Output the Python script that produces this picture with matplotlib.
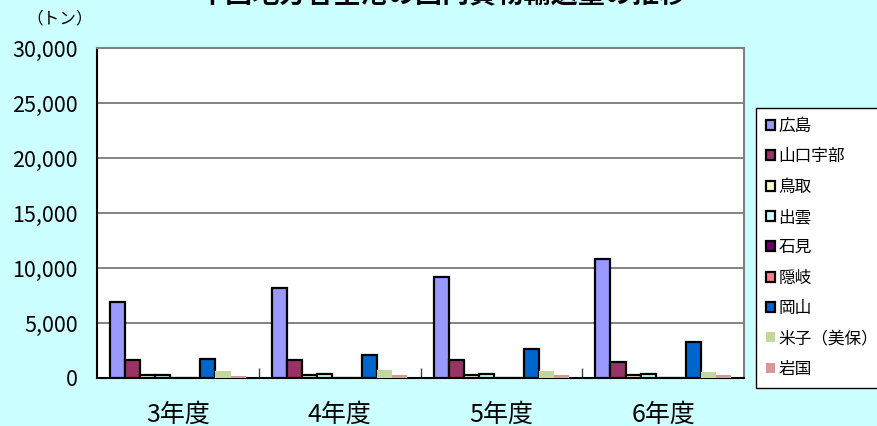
"""
中国地方各空港の国内貨物輸送量の推移 (bar chart).
"""
import numpy as np
from matplotlib import pyplot as plt
from matplotlib.patches import Patch

plt.rcParams['font.family'] = ['Noto Sans CJK JP', 'DejaVu Sans']

years = ["3年度", "4年度", "5年度", "6年度"]
airports = ["広島", "山口宇部", "鳥取", "出雲", "石見", "隠岐", "岡山", "米子（美保）", "岩国"]

hiroshima = [6900, 8200, 9150, 10800]
yamaguchi_ube = [1650, 1650, 1600, 1500]
tottori = [250, 250, 250, 230]
izumo = [280, 350, 330, 380]
iwami = [0, 0, 0, 0]
oki = [0, 0, 0, 0]
okayama = [1700, 2100, 2650, 3300]
yonago = [650, 730, 650, 550]
iwakuni = [150, 250, 260, 260]

series = [hiroshima, yamaguchi_ube, tottori, izumo, iwami, oki, okayama, yonago, iwakuni]
colors = ["#9999FF", "#993366", "#FFFFCC", "#CCFFFF", "#660066",
          "#FF8080", "#0066CC", "#C3D69B", "#D99694"]
edged = [True] * 7 + [False] * 2

bg = "#CCFFFF"
fig = plt.figure(figsize=(8.77, 4.26), dpi=100, facecolor=bg)
ax = fig.add_axes([97 / 877, 1 - 378 / 426, (744 - 97) / 877, (378 - 48) / 426])
ax.set_facecolor("white")

x = np.arange(len(years))
w = 0.093
for i, (vals, c, e) in enumerate(zip(series, colors, edged)):
    pos = x + (i - 4) * w
    if e:
        ax.bar(pos, vals, w, color=c, edgecolor="black", linewidth=1.6, zorder=3)
    else:
        ax.bar(pos, vals, w, color=c, edgecolor="none", zorder=3)

ax.set_xlim(-0.5, 3.5)
ax.set_ylim(0, 30000)
ax.set_yticks(range(0, 30001, 5000))
ax.set_yticklabels(["{:,}".format(v) for v in range(0, 30001, 5000)], fontsize=15.5)
ax.yaxis.grid(True, color="#6e6e6e", linewidth=1.2, zorder=0)
ax.tick_params(axis="y", length=0, pad=14)

ax.set_xticks(x)
ax.set_xticklabels(years, fontsize=18)
ax.tick_params(axis="x", length=0, pad=17)
ax.set_xticks(np.arange(0.5, 3.0, 1.0), minor=True)
ax.tick_params(axis="x", which="minor", direction="in", length=7, width=1, color="#404040")

for s in ["left", "bottom"]:
    ax.spines[s].set_color("black")
    ax.spines[s].set_linewidth(1.5)
for s in ["top", "right"]:
    ax.spines[s].set_color("#808080")
    ax.spines[s].set_linewidth(1.5)

fig.text(443 / 877, 1 - 3 / 426, "中国地方各空港の国内貨物輸送量の推移",
         fontsize=19.5, fontweight="bold", ha="center", va="baseline")
fig.text(60 / 877, 1 - 19 / 426, "（トン）", fontsize=12, ha="center", va="center")

handles = []
for c, e in zip(colors, edged):
    if e:
        handles.append(Patch(facecolor=c, edgecolor="black", linewidth=1.6))
    else:
        handles.append(Patch(facecolor=c, edgecolor="none"))
leg = fig.legend(handles, airports, loc="upper left",
                 bbox_to_anchor=(756 / 877, 1 - 108 / 426),
                 fontsize=12, frameon=True, fancybox=False,
                 handlelength=0.55, handleheight=0.55, handletextpad=0.2,
                 labelspacing=0.8, borderpad=0.6, borderaxespad=0)
leg.get_frame().set_edgecolor("black")
leg.get_frame().set_linewidth(1)
leg.get_frame().set_facecolor("white")
leg.get_frame().set_alpha(1)

plt.savefig("out.png", dpi=100, facecolor=bg)
